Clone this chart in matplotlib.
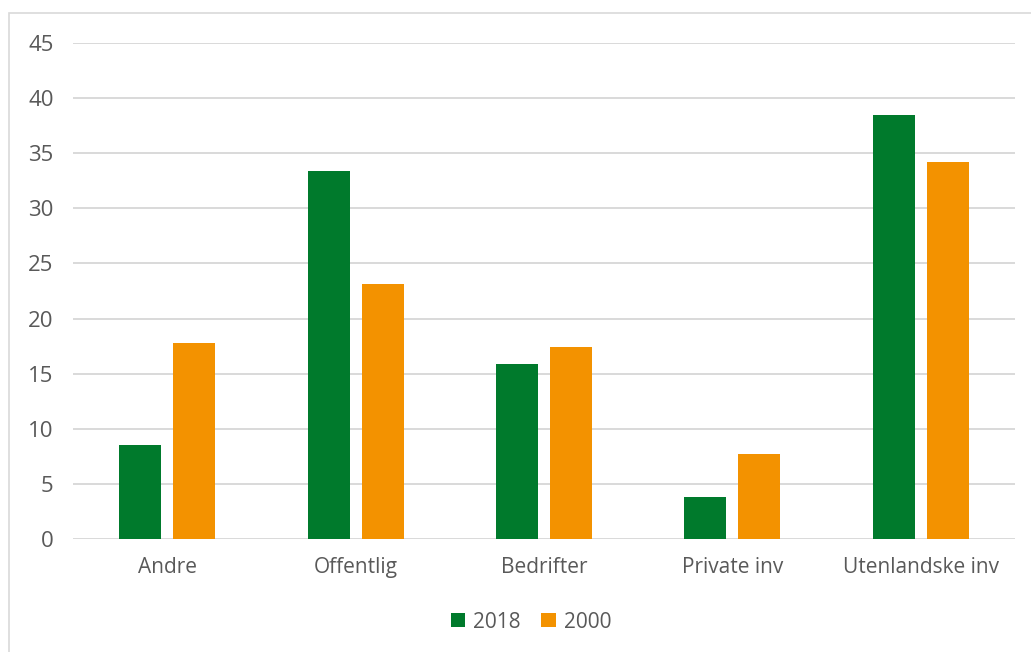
import numpy as np
import matplotlib
matplotlib.use("Agg")
import matplotlib.pyplot as plt
from matplotlib.patches import Rectangle

# Data
categories = ["Andre", "Offentlig", "Bedrifter", "Private inv", "Utenlandske inv"]
values_2018 = [8.5, 33.4, 15.9, 3.8, 38.5]
values_2000 = [17.8, 23.1, 17.4, 7.7, 34.2]
series_labels = ["2018", "2000"]
y_ticks = [0, 5, 10, 15, 20, 25, 30, 35, 40, 45]

green = "#007A2C"
orange = "#F39200"
grid_gray = "#D9D9D9"
text_gray = "#595959"

plt.rcParams["font.family"] = ["Open Sans", "DejaVu Sans"]

W, H = 1031, 652
fig = plt.figure(figsize=(W / 100, H / 100), dpi=100)
ax = fig.add_axes([73 / W, (H - 539) / H, (1015 - 73) / W, (539 - 43) / H])

x = np.arange(len(categories))
bar_w = 0.223
off = 0.143
ax.bar(x - off, values_2018, bar_w, color=green, label=series_labels[0], zorder=3)
ax.bar(x + off, values_2000, bar_w, color=orange, label=series_labels[1], zorder=3)

ax.set_xlim(-0.5, len(categories) - 0.5)
ax.set_ylim(0, 45)
ax.set_yticks(y_ticks)
ax.yaxis.grid(True, color=grid_gray, linewidth=1.4, zorder=0)
ax.set_axisbelow(True)
for s in ax.spines.values():
    s.set_visible(False)
ax.set_xticks(x)
ax.set_xticklabels(categories)
ax.tick_params(axis="both", length=0, colors=text_gray)
ax.tick_params(axis="y", pad=14, labelsize=16)
ax.tick_params(axis="x", pad=13, labelsize=15)

leg = fig.legend(loc="center", bbox_to_anchor=(531 / W, (H - 622) / H), ncol=2,
                 frameon=False, fontsize=15, handlelength=0.68, handleheight=0.68,
                 handletextpad=0.4, columnspacing=1.0)
for t in leg.get_texts():
    t.set_color(text_gray)

# light chart frame
fig.patches.append(Rectangle((9 / W, -0.1), 1.2, (H - 13) / H + 0.1, transform=fig.transFigure,
                             fill=False, edgecolor=grid_gray, linewidth=1.2))

fig.savefig("out.png", dpi=100)
